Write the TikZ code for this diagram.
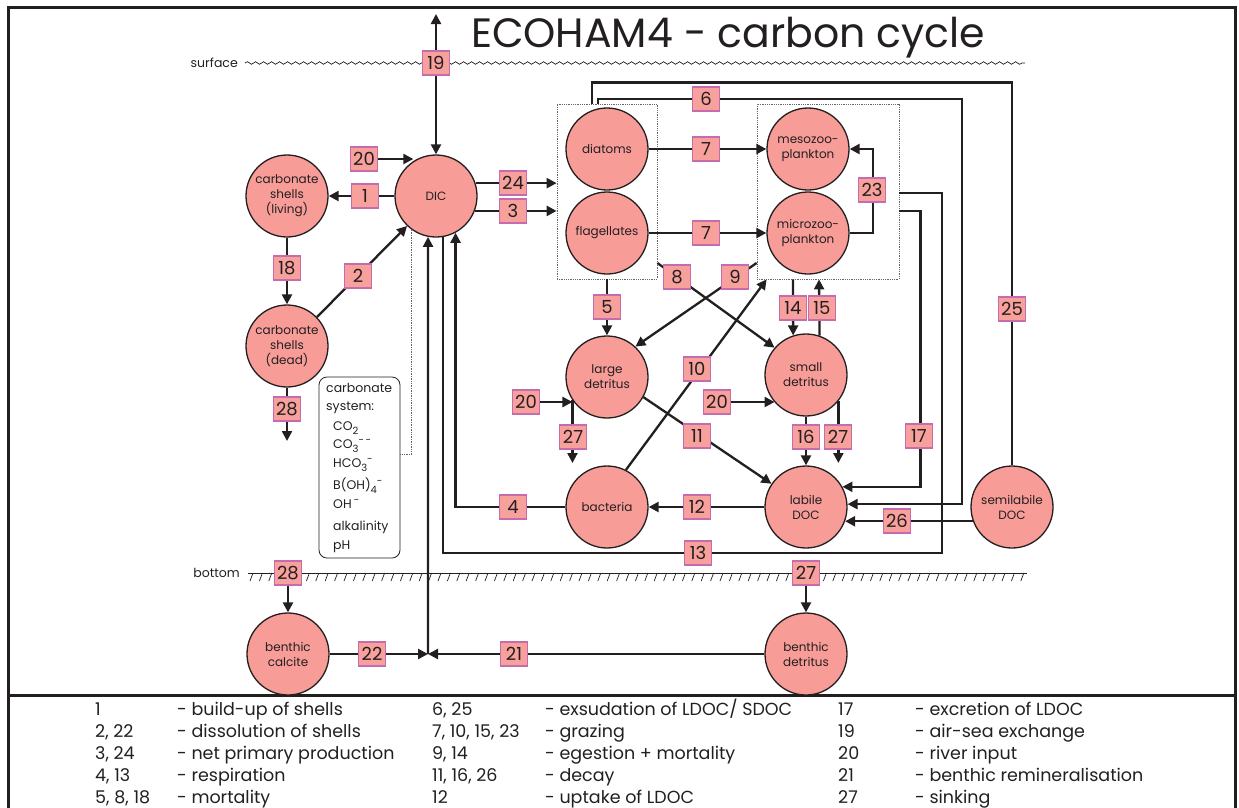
\documentclass[tikz,border=0pt]{standalone}
\usepackage{fontspec}
\setmainfont{Poppins}
\usetikzlibrary{arrows.meta,calc,decorations.pathmorphing}
\definecolor{salmon}{HTML}{F89C98}
\definecolor{lblfill}{HTML}{F7A09C}
\definecolor{lbldraw}{HTML}{C46CAE}
\definecolor{ink}{HTML}{231F20}
\newcommand{\sbs}[1]{\raisebox{-4pt}{\fontsize{10}{10}\selectfont #1}}
\newcommand{\sps}[1]{\raisebox{5pt}{\fontsize{10}{10}\selectfont #1}}
\begin{document}
\begin{tikzpicture}[x=1pt,y=-1pt,
  pool/.style={circle, draw=ink, line width=1.3pt, fill=salmon, minimum size=82pt, inner sep=0pt, align=center, text=ink, font=\fontsize{12}{15}\selectfont},
  lbl/.style={rectangle, draw=lbldraw, line width=1.1pt, fill=lblfill, minimum width=27pt, minimum height=24pt, inner sep=0pt, text=ink, font=\fontsize{18}{18}\selectfont},
  con/.style={line width=2.3pt, draw=ink},
  arr/.style={con, -{Triangle[length=10pt,width=10pt]}},
  grp/.style={draw=black!60, densely dotted, line width=0.8pt, inner sep=0pt},
  legtxt/.style={anchor=base west, inner sep=0pt, text=ink, font=\fontsize{17.5}{17.5}\selectfont}
]
\useasboundingbox (0,0) rectangle (1239,807);
% frame
\draw[line width=3pt, ink] (8.5,812) -- (8.5,7) -- (1235.5,7) -- (1235.5,812);
\draw[line width=3pt, ink] (8.5,695.5) -- (1235.5,695.5);
% title
\node[anchor=base, text=ink, font=\fontsize{41}{41}\selectfont, inner sep=0pt] (title) at (728,47) {ECOHAM4 - carbon cycle};
% surface
\node[anchor=east, inner sep=0pt, text=ink, font=\fontsize{12.5}{12.5}\selectfont] (surf) at (238,63) {surface};
\coordinate (sR) at (1025,63);
\draw[decorate, decoration={snake, amplitude=1.3pt, segment length=8pt}, line width=0.7pt, ink] ($(surf.east)+(7,0)$) -- (sR);
% bottom
\node[anchor=east, inner sep=0pt, text=ink, font=\fontsize{12.5}{12.5}\selectfont] (bot) at (240,573) {bottom};
\coordinate (bR) at (1027,573);
\draw[line width=0.7pt, ink] ($(bot.east)+(8,0)$) -- (bR);
\foreach \x in {253,262.4,...,1026} \draw[line width=0.7pt, ink] (\x,573) -- ++(-3,8);
% groups
\node[grp, minimum width=100pt, minimum height=175pt] (phy) at (607,191.5) {};
\node[grp, minimum width=142pt, minimum height=175pt] (zoo) at (828,191.5) {};
% pools
\node[pool] (DIC) at (436,196) {DIC};
\node[pool] (csl) at (287,196) {carbonate\\shells\\(living)};
\node[pool] (csd) at (287,346) {carbonate\\shells\\(dead)};
\node[pool] (dia) at (607,149) {diatoms};
\node[pool] (fla) at (607,233) {flagellates};
\node[pool] (meso) at (808,149) {mesozoo-\\plankton};
\node[pool] (micro) at (808,233) {microzoo-\\plankton};
\node[pool] (ld) at (607,377) {large\\detritus};
\node[pool] (sd) at (806,375) {small\\detritus};
\node[pool] (bac) at (607,507) {bacteria};
\node[pool] (ldoc) at (806,507) {labile\\DOC};
\node[pool] (sdoc) at (1012,507) {semilabile\\DOC};
\node[pool] (bcal) at (288,654) {benthic\\calcite};
\node[pool] (bdet) at (806,654) {benthic\\detritus};
% carbonate system box
\node[draw=ink, rounded corners=8pt, line width=0.8pt, minimum width=81pt, minimum height=181pt, inner sep=0pt] (cbox) at (359.5,467.5) {};
\node[anchor=north west, align=left, inner sep=0pt, text=ink, font=\fontsize{12.5}{18.5}\selectfont] (ctext) at (326,383) {carbonate\\system:\\[1pt]
\hspace*{7pt}CO\sbs{2}\\
\hspace*{7pt}CO\sbs{3}\sps{-\,-}\\
\hspace*{7pt}HCO\sbs{3}\sps{-}\\[4pt]
\hspace*{7pt}B(OH)\sbs{4}\sps{-}\\
\hspace*{7pt}OH\,\sps{-}\\[4pt]
\hspace*{7pt}alkalinity\\
\hspace*{7pt}pH};
\draw[densely dotted, line width=0.7pt, black!60] ($(cbox.east)+(0,-13.5)$) -| (DIC.234);
% air-sea exchange
\coordinate (air) at (436,14);
\draw[con, {Triangle[length=10pt,width=10pt]}-{Triangle[length=10pt,width=10pt]}] (air) -- (DIC) node[lbl] (l19) at (436,63) {19};
% carbonate fluxes
\draw[arr] (DIC) -- (csl) node[lbl] (l1) at (365,196) {1};
\node[lbl] (l20a) at (364,159) {20};
\draw[arr] (l20a.east) -- (l20a.east -| DIC.123);
\draw[arr] (DIC.18) -- (DIC.18 -| phy.west) node[lbl] (l24) at (513,183) {24};
\draw[arr] (DIC.-21) -- (DIC.-21 -| phy.west) node[lbl] (l3) at (513,211) {3};
\draw[arr] (csl) -- (csd) node[lbl] (l18) at (287,268) {18};
\draw[arr] (csd.44) -- (DIC.226) node[lbl] (l2) at (358,276) {2};
\coordinate (c28) at (287,441);
\draw[arr] (csd) -- (c28) node[lbl] (l28a) at (287,409) {28};
% respiration
\draw[con] ($(zoo.east)+(0,1.5)$) -| (942,553) -| (DIC.-80) node[lbl] (l13) at (698,553) {13};
\draw[arr] (bac) -| (DIC.-62) node[lbl] (l4) at (513,507) {4};
% excretion / exudation
\draw[arr] ($(zoo.east)+(0,19.5)$) -- ++(21,0) |- (ldoc.29) node[lbl] (l17) at (919,436) {17};
\draw[arr] ($(phy.north)+(-9,0)$) |- (962,99) |- (ldoc.4) node[lbl] (l6) at (706,99) {6};
\draw[con] (sdoc) |- ($(phy.north)+(-15,-21)$) -- ($(phy.north)+(-15,0)$) node[lbl] (l25) at (1012,309) {25};
\draw[arr] (sdoc.200) -- (ldoc.-20) node[lbl] (l26) at (897,521) {26};
% grazing
\draw[arr] (dia) -- (meso) node[lbl] (l7a) at (706,149) {7};
\draw[arr] (fla) -- (micro) node[lbl] (l7b) at (706,233) {7};
\draw[arr] (micro) -| ($(meso.east)+(23,0)$) -- (meso.east) node[lbl] (l23) at (872,190) {23};
% mortality, egestion
\draw[arr] ($(phy.east)+(0,71.5)$) -- (sd.139) node[lbl] (l8) at (677,277) {8};
\draw[arr] ($(zoo.west)+(0,71.5)$) -- (ld.47) node[lbl] (l9) at (735,277) {9};
\draw[arr] (phy.south) -- (ld) node[lbl] (l5) at (607,307) {5};
\draw[arr] (bac.63) -- ($(zoo.south west)+(10,0)$) node[lbl] (l10) at (697,369) {10};
\draw[arr] (ld.-29) -- (ldoc.146) node[lbl] (l11) at (697,436) {11};
\draw[arr] (ldoc) -- (bac) node[lbl] (l12) at (697,507) {12};
\draw[arr] ($(zoo.south)+(-35,0)$) -- (sd.108) node[lbl] (l14) at (793,308) {14};
\draw[arr] (sd.71.5) -- ($(zoo.south)+(-9,0)$) node[lbl] (l15) at (822,308) {15};
% river input
\node[lbl] (l20b) at (526,402) {20};
\draw[arr] (l20b) -- (l20b -| ld.214);
\node[lbl] (l20c) at (717,402) {20};
\draw[arr] (l20c) -- (l20c -| sd.221);
% sinking and decay
\draw[arr] (ld.214) -- (ld.214 |- 0,463) node[lbl] (l27a) at (573,437) {27};
\draw[arr] (sd.-39) -- (sd.-39 |- 0,463) node[lbl] (l27b) at (838,437) {27};
\draw[arr] (sd) -- (ldoc) node[lbl] (l16) at (806,437) {16};
% benthic
\coordinate (J) at (428,654);
\draw[arr] (bcal) -- (J) node[lbl] (l22) at (372,654) {22};
\draw[arr] (bdet) -- (J) node[lbl] (l21) at (514,654) {21};
\draw[arr] (J) -- (DIC.-101);
\node[lbl] (l28b) at (288,573) {28};
\draw[arr] (l28b) -- (bcal);
\node[lbl] (l27c) at (806,573) {27};
\draw[arr] (l27c) -- (bdet);
% legend
\foreach \i/\y/\a/\b/\c/\d/\e/\f in {
 1/715.5/1/{- build-up of shells}/{6, 25}/{- exsudation of LDOC/ SDOC}/17/{- excretion of LDOC},
 2/737/{2, 22}/{- dissolution of shells}/{7, 10, 15, 23}/{- grazing}/19/{- air-sea exchange},
 3/759/{3, 24}/{- net primary production}/{9, 14}/{- egestion + mortality}/20/{- river input},
 4/781.5/{4, 13}/{- respiration}/{11, 16, 26}/{- decay}/21/{- benthic remineralisation},
 5/803/{5, 8, 18}/{- mortality}/12/{- uptake of LDOC}/27/{- sinking}}{
  \node[legtxt] (ka\i) at (95,\y) {\a};
  \node[legtxt] (da\i) at (177,\y) {\b};
  \node[legtxt] (kb\i) at (432,\y) {\c};
  \node[legtxt] (db\i) at (545,\y) {\d};
  \node[legtxt] (kc\i) at (838,\y) {\e};
  \node[legtxt] (dc\i) at (915,\y) {\f};
}
\end{tikzpicture}
\end{document}
